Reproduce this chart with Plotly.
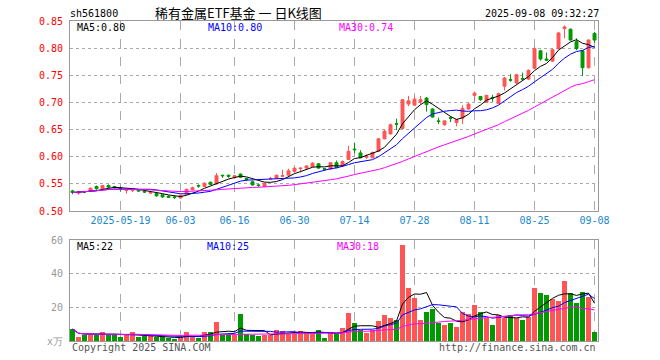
import pandas as pd
import plotly.graph_objects as go

# ---------------- data ----------------
dates = [
    "2025-05-07", "2025-05-08", "2025-05-09", "2025-05-12", "2025-05-13", "2025-05-14", "2025-05-15", "2025-05-16",
    "2025-05-19", "2025-05-20", "2025-05-21", "2025-05-22", "2025-05-23", "2025-05-26", "2025-05-27", "2025-05-28",
    "2025-05-29", "2025-05-30", "2025-06-03", "2025-06-04", "2025-06-05", "2025-06-06", "2025-06-09", "2025-06-10",
    "2025-06-11", "2025-06-12", "2025-06-13", "2025-06-16", "2025-06-17", "2025-06-18", "2025-06-19", "2025-06-20",
    "2025-06-23", "2025-06-24", "2025-06-25", "2025-06-26", "2025-06-27", "2025-06-30", "2025-07-01", "2025-07-02",
    "2025-07-03", "2025-07-04", "2025-07-07", "2025-07-08", "2025-07-09", "2025-07-10", "2025-07-11", "2025-07-14",
    "2025-07-15", "2025-07-16", "2025-07-17", "2025-07-18", "2025-07-21", "2025-07-22", "2025-07-23", "2025-07-24",
    "2025-07-25", "2025-07-28", "2025-07-29", "2025-07-30", "2025-07-31", "2025-08-01", "2025-08-04", "2025-08-05",
    "2025-08-06", "2025-08-07", "2025-08-08", "2025-08-11", "2025-08-12", "2025-08-13", "2025-08-14", "2025-08-15",
    "2025-08-18", "2025-08-19", "2025-08-20", "2025-08-21", "2025-08-22", "2025-08-25", "2025-08-26", "2025-08-27",
    "2025-08-28", "2025-08-29", "2025-09-01", "2025-09-02", "2025-09-03", "2025-09-04", "2025-09-05", "2025-09-08",
]

open_ = [
    0.537, 0.533, 0.5355, 0.537, 0.545, 0.540, 0.547, 0.545,
    0.543, 0.538, 0.538, 0.539, 0.536, 0.533, 0.532, 0.530,
    0.527, 0.526, 0.524, 0.531, 0.539, 0.547, 0.545, 0.553,
    0.550, 0.566, 0.566, 0.562, 0.568, 0.560, 0.554, 0.548,
    0.545, 0.559, 0.560, 0.564, 0.566, 0.573, 0.578, 0.579,
    0.582, 0.587, 0.578, 0.577, 0.589, 0.583, 0.595, 0.614,
    0.607, 0.599, 0.598, 0.610, 0.633, 0.642, 0.661, 0.652,
    0.697, 0.695, 0.701, 0.708, 0.688, 0.666, 0.659, 0.672,
    0.663, 0.671, 0.688, 0.713, 0.711, 0.700, 0.709, 0.698,
    0.730, 0.742, 0.736, 0.744, 0.743, 0.763, 0.795, 0.780,
    0.776, 0.799, 0.836, 0.835, 0.812, 0.795, 0.764, 0.827,
]
high = [
    0.539, 0.537, 0.537, 0.543, 0.547, 0.548, 0.549, 0.546,
    0.545, 0.541, 0.541, 0.540, 0.537, 0.536, 0.533, 0.531,
    0.529, 0.527, 0.530, 0.541, 0.545, 0.549, 0.553, 0.554,
    0.570, 0.566, 0.567, 0.566, 0.569, 0.561, 0.556, 0.550,
    0.552, 0.563, 0.567, 0.576, 0.578, 0.580, 0.580, 0.584,
    0.590, 0.588, 0.579, 0.590, 0.593, 0.593, 0.620, 0.626,
    0.612, 0.604, 0.609, 0.634, 0.650, 0.661, 0.670, 0.706,
    0.712, 0.711, 0.712, 0.710, 0.689, 0.672, 0.667, 0.674,
    0.670, 0.695, 0.699, 0.720, 0.712, 0.714, 0.714, 0.718,
    0.747, 0.752, 0.753, 0.755, 0.761, 0.803, 0.797, 0.792,
    0.799, 0.830, 0.842, 0.836, 0.818, 0.796, 0.816, 0.830,
]
low = [
    0.531, 0.530, 0.533, 0.536, 0.539, 0.539, 0.541, 0.541,
    0.536, 0.532, 0.535, 0.535, 0.533, 0.531, 0.526, 0.524,
    0.524, 0.522, 0.523, 0.530, 0.538, 0.543, 0.544, 0.548,
    0.549, 0.561, 0.561, 0.559, 0.561, 0.555, 0.547, 0.544,
    0.544, 0.557, 0.559, 0.563, 0.565, 0.572, 0.571, 0.578,
    0.581, 0.578, 0.575, 0.576, 0.579, 0.582, 0.594, 0.606,
    0.597, 0.596, 0.597, 0.609, 0.632, 0.641, 0.649, 0.651,
    0.693, 0.694, 0.696, 0.683, 0.672, 0.660, 0.657, 0.664,
    0.656, 0.660, 0.686, 0.703, 0.703, 0.699, 0.701, 0.697,
    0.722, 0.738, 0.734, 0.741, 0.741, 0.761, 0.777, 0.776,
    0.775, 0.798, 0.818, 0.814, 0.796, 0.749, 0.762, 0.810,
]
close = [
    0.534, 0.535, 0.535, 0.542, 0.541, 0.547, 0.544, 0.544,
    0.540, 0.539, 0.539, 0.537, 0.535, 0.534, 0.528, 0.526,
    0.525, 0.525, 0.529, 0.540, 0.543, 0.546, 0.551, 0.549,
    0.565, 0.565, 0.564, 0.565, 0.562, 0.558, 0.548, 0.547,
    0.551, 0.560, 0.566, 0.565, 0.574, 0.579, 0.579, 0.583,
    0.588, 0.579, 0.577, 0.589, 0.580, 0.591, 0.610, 0.613,
    0.598, 0.601, 0.608, 0.633, 0.647, 0.659, 0.660, 0.705,
    0.703, 0.706, 0.705, 0.696, 0.673, 0.665, 0.666, 0.671,
    0.668, 0.689, 0.697, 0.717, 0.705, 0.713, 0.708, 0.716,
    0.745, 0.741, 0.751, 0.743, 0.759, 0.799, 0.780, 0.778,
    0.797, 0.828, 0.839, 0.815, 0.799, 0.764, 0.815, 0.815,
]
# volume in 万手
volume = [
    7.0, 2.2, 3.4, 3.8, 3.8, 5.2, 3.8, 3.8,
    2.4, 3.8, 5.2, 2.4, 2.8, 2.8, 2.4, 2.4,
    1.8, 1.4, 2.4, 5.2, 2.8, 2.0, 5.2, 5.2,
    11.1, 3.8, 3.8, 3.8, 15.9, 4.4, 3.8, 2.8,
    3.8, 3.8, 6.4, 5.8, 4.4, 4.4, 5.8, 5.2,
    5.2, 6.4, 1.8, 5.2, 4.0, 7.6, 16.5, 10.5,
    6.8, 4.6, 6.8, 11.7, 15.3, 13.5, 12.3, 57.1,
    31.4, 25.4, 12.7, 17.5, 19.3, 10.5, 9.7, 10.7,
    8.5, 17.5, 16.3, 21.1, 17.5, 13.9, 9.7, 15.5,
    13.9, 15.7, 13.9, 12.7, 14.5, 31.4, 28.6, 27.2,
    24.9, 23.7, 35.6, 28.6, 22.6, 29.2, 26.2, 5.4,
]

price_ticks = [0.50, 0.55, 0.60, 0.65, 0.70, 0.75, 0.80, 0.85]
vol_ticks = [0, 20, 40, 60]
vol_ticktext = ["x万", "20", "40", "60"]
date_ticks = ["2025-05-19", "2025-06-03", "2025-06-16", "2025-06-30", "2025-07-14",
              "2025-07-28", "2025-08-11", "2025-08-25", "2025-09-08"]
date_ticktext = ["2025-05-19", "06-03", "06-16", "06-30", "07-14", "07-28", "08-11", "08-25", "09-08"]

# ---------------- derived ----------------
cs = pd.Series(close)
vs = pd.Series(volume)
ma5 = cs.rolling(5, min_periods=1).mean()
ma10 = cs.rolling(10, min_periods=1).mean()
ma30 = cs.rolling(30, min_periods=1).mean()
vma5 = vs.rolling(5, min_periods=1).mean()
vma10 = vs.rolling(10, min_periods=1).mean()
vma30 = vs.rolling(30, min_periods=1).mean()

RED = "#ff5555"
GREEN = "#009900"
vol_colors = [RED if c >= o else GREEN for o, c in zip(open_, close)]

MONO = "DejaVu Sans Mono"
GRID = "#aaaaaa"
BORDER = "#999999"

fig = go.Figure()
fig.add_trace(go.Candlestick(
    x=dates, open=open_, high=high, low=low, close=close,
    increasing=dict(line=dict(color=RED, width=1), fillcolor=RED),
    decreasing=dict(line=dict(color=GREEN, width=1), fillcolor=GREEN),
    whiskerwidth=0, xaxis="x", yaxis="y", showlegend=False, hoverinfo="skip",
))
for ser, col in [(ma5, "#000000"), (ma10, "#0000ff"), (ma30, "#ff00ff")]:
    fig.add_trace(go.Scatter(x=dates, y=ser, mode="lines", line=dict(color=col, width=1),
                             xaxis="x", yaxis="y", showlegend=False, hoverinfo="skip"))

fig.add_trace(go.Bar(x=dates, y=volume, marker=dict(color=vol_colors, line=dict(width=0)),
                     width=0.82, xaxis="x2", yaxis="y2", showlegend=False, hoverinfo="skip"))
for ser, col in [(vma5, "#000000"), (vma10, "#0000ff"), (vma30, "#ff00ff")]:
    fig.add_trace(go.Scatter(x=dates, y=ser, mode="lines", line=dict(color=col, width=1),
                             xaxis="x2", yaxis="y2", showlegend=False, hoverinfo="skip"))

# ---------------- layout ----------------
W, H = 660, 360
PL, PR, PT, PB = 70, 598, 21, 341          # plot area in page pixels
ML, MR, MT, MB = PL, W - PR, PT, H - PB
PW, PH = W - ML - MR, H - MT - MB


def px(xp):
    return (xp - PL) / PW


def py(yp):
    return (PB - yp) / PH


xrange_ = [-0.42, len(dates) - 1 + 0.58]
common_x = dict(type="category", range=xrange_, showgrid=True, gridcolor=GRID, griddash="dash",
                gridwidth=1, showline=True, mirror=True, linecolor=BORDER, linewidth=1,
                tickvals=date_ticks, ticktext=date_ticktext, ticks="", zeroline=False,
                fixedrange=True)

fig.update_layout(
    width=W, height=H,
    margin=dict(l=ML, r=MR, t=MT, b=MB),
    paper_bgcolor="white", plot_bgcolor="white",
    font=dict(family=MONO, size=10, color="#000000"),
    bargap=0,
    hovermode=False,
    xaxis=dict(**common_x, domain=[0, 1], anchor="y", rangeslider=dict(visible=False),
               tickfont=dict(family=MONO, size=10, color="#1a88cc")),
    xaxis2=dict(**common_x, domain=[0, 1], anchor="y2", showticklabels=False),
    yaxis=dict(domain=[py(211), 1], range=[0.50, 0.85], tickvals=price_ticks, tickformat=".2f",
               showgrid=True, gridcolor=GRID, griddash="dot", gridwidth=1,
               showline=True, mirror=True, linecolor=BORDER, linewidth=1, ticks="",
               zeroline=False, tickfont=dict(family=MONO, size=10, color="#ff0000"),
               ticklabelstandoff=4, fixedrange=True),
    yaxis2=dict(domain=[0, py(240)], range=[0, 60], tickvals=vol_ticks, ticktext=vol_ticktext,
                showgrid=True, gridcolor=GRID, griddash="dot", gridwidth=1,
                showline=True, mirror=True, linecolor=BORDER, linewidth=1, ticks="",
                zeroline=False, tickfont=dict(family=MONO, size=10, color="#999999"),
                ticklabelstandoff=4, fixedrange=True),
)


def ann(text, xp, yp, color="#000000", size=10, family=MONO, xanchor="left"):
    fig.add_annotation(text=text, x=px(xp), y=py(yp), xref="paper", yref="paper",
                       showarrow=False, xanchor=xanchor, yanchor="middle",
                       font=dict(family=family, size=size, color=color))


ann("sh561800", 68, 13)
ann("稀有金属ETF基金 一 日K线图", 238, 12, size=13, family="Noto Sans CJK SC", xanchor="center")
ann("2025-09-08 09:32:27", 601, 13, xanchor="right")
ann("MA5:%.2f" % ma5.iloc[-1], 75, 28)
ann("MA10:%.2f" % ma10.iloc[-1], 206, 28, color="#0000ff")
ann("MA30:%.2f" % ma30.iloc[-1], 337, 28, color="#ff00ff")
ann("MA5:%d" % round(vma5.iloc[-1]), 75, 246)
ann("MA10:%d" % round(vma10.iloc[-1]), 205, 246, color="#0000ff")
ann("MA30:%d" % round(vma30.iloc[-1]), 335, 246, color="#ff00ff")
ann("Copyright 2025 SINA.COM", 70, 347, color="#555555")
ann("http://finance.sina.com.cn", 598, 347, color="#555555", xanchor="right")

# remove the browser's default 8px page margin so the figure sits at the window origin
fig.write_html("out.html", config={"displayModeBar": False, "staticPlot": True},
               post_script="document.body.style.margin='0';")
